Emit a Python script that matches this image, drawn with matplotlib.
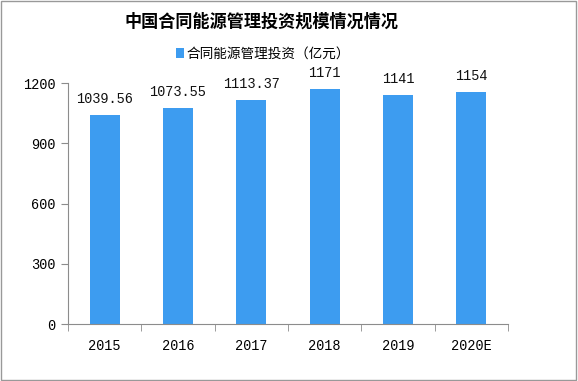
import matplotlib.pyplot as plt
from matplotlib.patches import Rectangle

years = ['2015', '2016', '2017', '2018', '2019', '2020E']
values = [1039.56, 1073.55, 1113.37, 1171, 1141, 1154]
labels = ['1039.56', '1073.55', '1113.37', '1171', '1141', '1154']

plt.rcParams['font.family'] = ['Liberation Mono', 'Noto Sans CJK SC']
blue = '#3d9cf0'
gray = '#8c8c8c'
nsize = 9.8

fig = plt.figure(figsize=(5.78, 3.81), dpi=100)
ax = fig.add_axes([68 / 578, 1 - 324 / 381, 440 / 578, 241 / 381])

x = list(range(len(years)))
ax.bar(x, values, width=0.41, color=blue, label='合同能源管理投资（亿元）')
for xi, v, t in zip(x, values, labels):
    ax.text(xi, v + 45, t, ha='center', va='bottom', fontsize=nsize, color='#111111')

ax.set_xlim(-0.5, len(years) - 0.5)
ax.set_ylim(0, 1200)
ax.set_yticks([0, 300, 600, 900, 1200])
ax.set_xticks(x)
ax.set_xticklabels(years)
ax.set_xticks([i - 0.5 for i in range(len(years) + 1)], minor=True)
ax.tick_params(axis='x', which='major', length=0, pad=11, labelsize=nsize)
ax.tick_params(axis='x', which='minor', length=5, color=gray)
ax.tick_params(axis='y', length=5, color=gray, labelsize=nsize, pad=4)
for s in ['top', 'right']:
    ax.spines[s].set_visible(False)
for s in ['left', 'bottom']:
    ax.spines[s].set_color(gray)

fig.text(261 / 578, 1 - 22 / 381, '中国合同能源管理投资规模情况情况', ha='center', va='center',
         fontsize=12.3, fontweight='bold', family='Noto Sans CJK SC')
leg = fig.legend(loc='center', bbox_to_anchor=(263 / 578, 1 - 54 / 381), frameon=False,
                 prop={'family': 'Noto Sans CJK SC', 'size': 9.8},
                 handlelength=0.6, handleheight=0.8, handletextpad=0.2)

fig.patches.append(Rectangle((0.002, 0.003), 0.995, 0.994, transform=fig.transFigure,
                             fill=False, edgecolor='#999999', linewidth=1))
fig.savefig('out.png', dpi=100)
